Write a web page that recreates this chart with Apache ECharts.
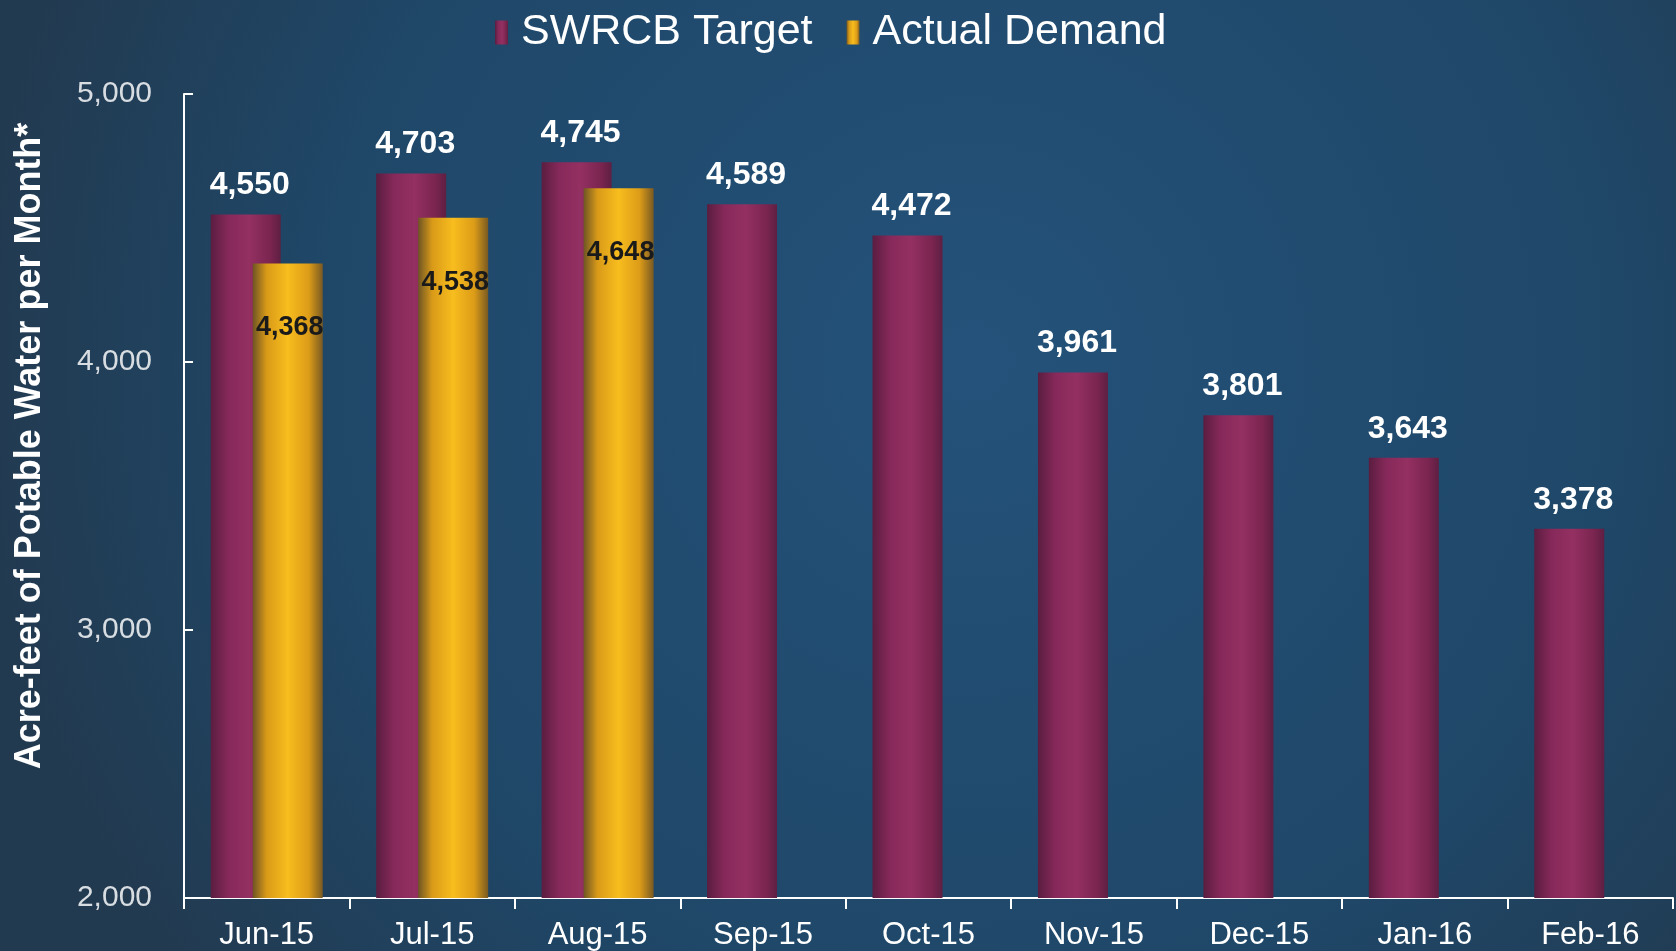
<!DOCTYPE html>
<html>
<head>
<meta charset="utf-8">
<script src="https://cdn.jsdelivr.net/npm/echarts@6/dist/echarts.min.js"></script>
<style>
html,body{margin:0;padding:0;background:#1e3e5c;}
#c{width:1676px;height:951px;}
</style>
</head>
<body>
<div id="c"></div>
<script>
var categories = ['Jun-15','Jul-15','Aug-15','Sep-15','Oct-15','Nov-15','Dec-15','Jan-16','Feb-16'];
var targetValues = [4550, 4703, 4745, 4589, 4472, 3961, 3801, 3643, 3378];
var actualValues = [4368, 4538, 4648, null, null, null, null, null, null];
var yTicks = {min: 2000, max: 5000, interval: 1000};

var chart = echarts.init(document.getElementById('c'));
var pinkGrad = new echarts.graphic.LinearGradient(0,0,1,0,[
  {offset:0,color:'#5a1d40'},{offset:0.25,color:'#86295a'},
  {offset:0.55,color:'#943062'},{offset:0.85,color:'#7a2550'},{offset:1,color:'#5e1f42'}]);
var yellowGrad = new echarts.graphic.LinearGradient(0,0,1,0,[
  {offset:0,color:'#6e5524'},{offset:0.2,color:'#d99a18'},
  {offset:0.5,color:'#f8bd1e'},{offset:0.8,color:'#dc9c18'},{offset:1,color:'#7a5a22'}]);

chart.setOption({
  backgroundColor: {type:'radial', x:0.58, y:0.38, r:1.05, colorStops:[
    {offset:0,color:'#24527a'},{offset:0.65,color:'#1f4768'},{offset:1,color:'#223a50'}]},
  textStyle:{fontFamily:'Liberation Sans, Arial, sans-serif'},
  legend:{
    top: 6, left: 490,
    itemWidth: 13, itemHeight: 24, itemGap: 34,
    icon: 'rect',
    textStyle:{color:'#ffffff', fontSize: 43, fontFamily:'Liberation Sans, Arial, sans-serif', padding:[0,0,0,8]},
    data:['SWRCB Target','Actual Demand']
  },
  grid:{left:184, right:3, top:94, bottom:53, containLabel:false, outerBoundsMode:'none'},
  xAxis:{
    type:'category', data: categories,
    axisLine:{lineStyle:{color:'#ffffff', width:2}},
    axisTick:{show:true, length:11, lineStyle:{color:'#ffffff', width:2}},
    axisLabel:{color:'#ffffff', fontSize:31, margin:22, fontFamily:'Liberation Sans, Arial, sans-serif'}
  },
  yAxis:{
    type:'value', min:yTicks.min, max:yTicks.max, interval:yTicks.interval,
    name:'Acre-feet of Potable Water per Month*',
    nameLocation:'middle', nameGap:136, nameRotate:90,
    nameTextStyle:{color:'#ffffff', fontSize:36, fontWeight:'bold', fontFamily:'Liberation Sans Narrow, Arial Narrow, Liberation Sans, sans-serif', padding:[0,0,0,100]},
    axisLine:{show:true, lineStyle:{color:'#ffffff', width:2}},
    axisTick:{show:true, inside:true, length:9, lineStyle:{color:'#ffffff', width:2}},
    splitLine:{show:false},
    axisLabel:{color:'#d8dde2', fontSize:30, margin:32, formatter:function(v){return v.toLocaleString('en-US');}}
  },
  series:[
    {name:'SWRCB Target', type:'bar', data:targetValues, barWidth:70, barGap:'-40%',
     itemStyle:{color:pinkGrad},
     label:{show:true, position:'top', distance:13, color:'#ffffff', fontSize:32, fontWeight:'bold', offset:[4,0],
       formatter:function(p){return p.value.toLocaleString('en-US');}}},
    {name:'Actual Demand', type:'bar', data:actualValues, barWidth:70,
     itemStyle:{color:yellowGrad},
     label:{show:true, position:'insideTop', distance:51, color:'#1a1a1a', fontSize:27, fontWeight:'bold', offset:[2,0],
       formatter:function(p){return p.value==null?'':p.value.toLocaleString('en-US');}}}
  ]
});
</script>
</body>
</html>
